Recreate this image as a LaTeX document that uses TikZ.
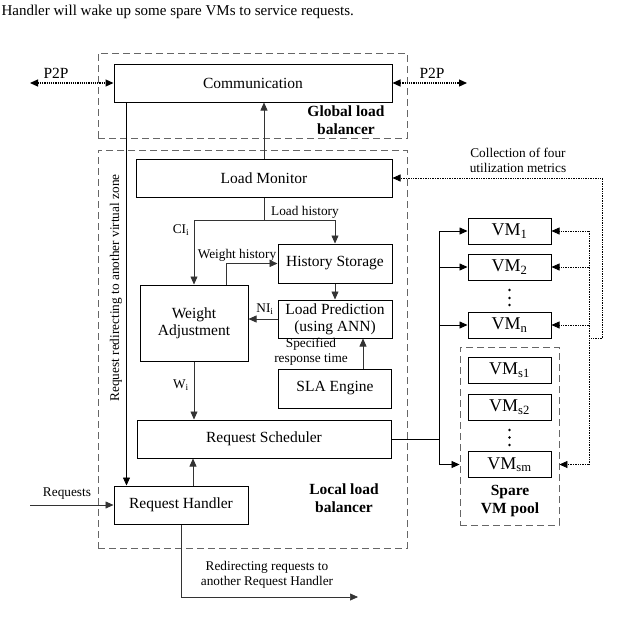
\documentclass[tikz,border=0pt]{standalone}
\usepackage{fontspec}
\setmainfont{Liberation Serif}
\usetikzlibrary{arrows.meta}

\tikzset{
  block/.style={draw, line width=1pt, align=center, inner sep=0pt,
    font=\fontsize{15.5}{17}\selectfont},
  vmbox/.style={block, minimum width=83pt, minimum height=26pt,
    font=\fontsize{18}{20}\selectfont},
  zone/.style={draw=black!60, dash pattern=on 7pt off 4pt, line width=0.9pt},
  arr/.style={-{Triangle[length=8pt,width=7pt]}},
  link/.style={arr, line width=0.6pt, draw=black!80},
  metric/.style={densely dotted, line width=0.7pt},
  p2p/.style={densely dotted, line width=1.2pt,
    {Triangle[length=8pt,width=7pt]}-{Triangle[length=8pt,width=7pt]}},
  lbl/.style={font=\fontsize{13.3}{15}\selectfont, align=center},
  zonelbl/.style={font=\bfseries\fontsize{15.5}{18}\selectfont, align=center},
}

\begin{document}
\begin{tikzpicture}[x=1pt, y=-1pt]
\useasboundingbox (0,0) rectangle (620,635);

% Define nodes
\path
(-2,15) node[anchor=base west, font=\fontsize{15}{18}\selectfont] (intro)
  {Handler will wake up some spare VMs to service requests.}
(252.5,95.5) node[zone, minimum width=309pt, minimum height=85pt] (glob) {}
(252.5,349) node[zone, minimum width=309pt, minimum height=398pt] (local) {}
(509.5,436) node[zone, minimum width=99pt, minimum height=178pt] (pool) {}
;

\path
(253,83) node[block, minimum width=278pt, minimum height=38pt] (comm) {Communication}
(264,178) node[block, minimum width=256pt, minimum height=38pt] (lmon) {Load Monitor}
(335,263.5) node[block, minimum width=114pt, minimum height=39pt] (hist) {History Storage}
(335,319) node[block, minimum width=114pt, minimum height=38pt] (lpred) {Load Prediction\\(using ANN)}
(335,388.5) node[block, minimum width=113pt, minimum height=39pt] (sla) {SLA Engine}
(194,323) node[block, minimum width=108pt, minimum height=76pt] (wadj) {Weight\\Adjustment}
(264,439) node[block, minimum width=254pt, minimum height=38pt] (rsched) {Request Scheduler}
(181,505) node[block, minimum width=134pt, minimum height=38pt] (rhand) {Request Handler}
;

\path
(509.5,231) node[vmbox] (vm1) {VM\textsubscript{1}}
(509.5,267) node[vmbox] (vm2) {VM\textsubscript{2}}
(509.5,325) node[vmbox] (vmn) {VM\textsubscript{n}}
(509.5,370) node[vmbox] (vms1) {VM\textsubscript{s1}}
(509.5,407) node[vmbox] (vms2) {VM\textsubscript{s2}}
(509.5,464.5) node[vmbox] (vmsm) {VM\textsubscript{sm}}
;
\foreach \y in {290,298,305,430,437.5,445}
  \fill (509.5,\y) circle (1.4);

% Labels
\path[lbl]
(56,73) node[font=\fontsize{15.5}{17}\selectfont] (p2plbl) {P2P}
(432,73) node[font=\fontsize{15.5}{17}\selectfont] (p2prlbl) {P2P}
(518,160) node (collect) {Collection of four\\utilization metrics}
(305,212) node (lhist) {Load history}
(181,230) node (cilbl) {CI\textsubscript{i}}
(237,255) node (whist) {Weight history}
(265,309) node (nilbl) {NI\textsubscript{i}}
(311,352) node (resp) {Specified\\response time}
(181,385) node (wilbl) {W\textsubscript{i}}
(67,494) node (reqlbl) {Requests}
(267,575) node (redirlbl) {Redirecting requests to\\another Request Handler}
(116,288) node[rotate=90] (vzone) {Request redirecting to another virtual zone}
;
\path[zonelbl]
(346,120) node (globlbl) {Global load\\balancer}
(344,498) node (loclbl) {Local load\\balancer}
(510,501) node (poollbl) {Spare\\VM pool}
;

% Connectors
\coordinate (p2pl) at (30,83);
\coordinate (p2pr) at (467,83);
\draw[p2p] (p2pl) -- (comm.west);
\draw[p2p] (comm.east) -- (p2pr);

\draw[arr, line width=0.8pt] ([xshift=13pt]comm.south west) -- ([xshift=13pt]rhand.north west);
\draw[link] (lmon.north) -- (lmon.north |- comm.south);
\draw[link] (lmon.south) -- ++(0,23) coordinate (lsplit) -| (hist.north);
\draw[link] (lsplit) -| (wadj.north);
\draw[link] ([xshift=32pt]wadj.north) |- (hist.west);
\draw[link] (hist.south) -- (lpred.north);
\draw[link] (lpred.west) -- (lpred.west -| wadj.east);
\draw[link] ([xshift=28pt]sla.north) -- ([xshift=28pt]lpred.south);
\draw[link] (wadj.south) -- (wadj.south |- rsched.north);
\draw[link] ([xshift=12pt]rhand.north) -- ([xshift=12pt]rhand.north |- rsched.south);

\coordinate (reqin) at (30,505);
\draw[link] (reqin) -- (rhand.west);
\coordinate (redir) at (358,597);
\draw[link] (rhand.south) |- (redir);

% Bus to the VMs
\coordinate (bustop) at (439,231);
\coordinate (busbot) at (439,464.5);
\draw[line width=0.8pt] (rsched.east) -- (rsched.east -| bustop);
\draw[line width=0.8pt] (bustop) -- (busbot);
\foreach \v in {vm1,vm2,vmn}
  \draw[arr, line width=0.8pt] (\v.west -| bustop) -- (\v.west);
\draw[arr, line width=0.8pt] (busbot) -- (busbot -| pool.west);

% Utilization metrics
\coordinate (mcorner) at (602,338);
\coordinate (mtop) at (589,231);
\coordinate (mbot) at (589,464.5);
\draw[metric, arr] (mcorner) |- (lmon.east);
\draw[metric] (mcorner) -- (mcorner -| mtop);
\draw[metric] (mtop) -- (mbot);
\foreach \v in {vm1,vm2,vmn}
  \draw[metric, arr] (\v.east -| mtop) -- (\v.east);
\draw[metric, arr] (mbot) -- (mbot -| pool.east);

\end{tikzpicture}
\end{document}
